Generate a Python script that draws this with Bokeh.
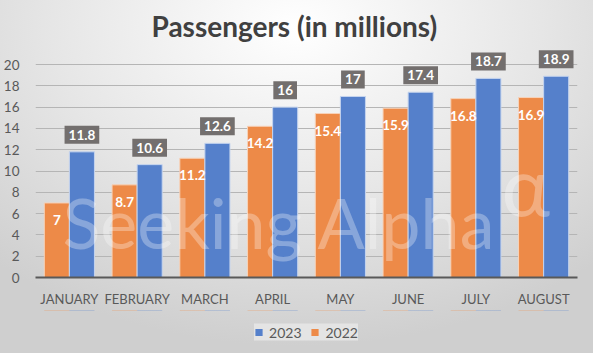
from bokeh.plotting import figure
from bokeh.layouts import column
from bokeh.models import ColumnDataSource, FactorRange, Range1d, Legend, LegendItem, Label, FixedTicker
from bokeh.transform import dodge
from bokeh.core.properties import value
from bokeh.embed import file_html
from bokeh.resources import INLINE

months = ["JANUARY", "FEBRUARY", "MARCH", "APRIL", "MAY", "JUNE", "JULY", "AUGUST"]
y2022 = [7, 8.7, 11.2, 14.2, 15.4, 15.9, 16.8, 16.9]
y2023 = [11.8, 10.6, 12.6, 16, 17, 17.4, 18.7, 18.9]
y_ticks = [0, 2, 4, 6, 8, 10, 12, 14, 16, 18, 20]
series = ["2023", "2022"]
colors = {"2023": "#5580CB", "2022": "#ED8A48"}

src = ColumnDataSource(dict(
    month=months, y22=y2022, y23=y2023,
    l22=[f"{v:g}" for v in y2022], l23=[f"{v:g}" for v in y2023],
))

FONT = "Lato"
TXT = "#595959"

xr = FactorRange(*months, range_padding=0)
p = figure(width=593, height=310, x_range=xr,
           y_range=(0, 21.6), output_backend="svg", toolbar_location=None,
           title="Passengers (in millions)")
p.border_fill_alpha = 0
p.background_fill_alpha = 0
p.outline_line_color = None
p.min_border_left = 33
p.min_border_right = 16
p.min_border_top = 47
p.min_border_bottom = 33

p.title.align = "left"
p.title.offset = 116
p.title.standoff = 10
p.title.text_font = FONT
p.title.text_font_size = "28px"
p.title.text_color = "#404040"
p.title.text_font_style = "bold"

r22 = p.vbar(x=dodge("month", -0.185, range=xr), top="y22", width=0.37, source=src,
             fill_color=colors["2022"], line_color="#f7d2b8", line_width=1)
r23 = p.vbar(x=dodge("month", 0.185, range=xr), top="y23", width=0.37, source=src,
             fill_color=colors["2023"], line_color="#c5d4ee", line_width=1)

p.text(x=dodge("month", 0.185, range=xr), y="y23", text="l23", source=src,
       text_align="center", text_baseline="middle", y_offset=-17,
       text_font=value(FONT), text_font_size="13.5px", text_font_style="bold",
       text_color="white", background_fill_color="#736F6E", padding=4)
p.text(x=dodge("month", -0.185, range=xr), y="y22", text="l22", source=src,
       text_align="center", text_baseline="middle", y_offset=17,
       text_font=value(FONT), text_font_size="13.5px", text_font_style="bold",
       text_color="white")

# watermark
p.add_layout(Label(x=27, y=14, x_units="screen", y_units="screen", text="Seeking Alpha",
                   text_font=FONT, text_font_size="70px",
                   text_color="white", text_alpha=0.3))
p.add_layout(Label(x=466, y=45, x_units="screen", y_units="screen", text="α",
                   text_font=FONT, text_font_size="82px",
                   text_color="white", text_alpha=0.3))

p.yaxis.ticker = FixedTicker(ticks=y_ticks)
p.yaxis.axis_line_color = None
p.yaxis.major_tick_line_color = None
p.yaxis.minor_tick_line_color = None
p.yaxis.major_label_standoff = 10
p.yaxis.major_label_text_font = FONT
p.yaxis.major_label_text_font_size = "13.5px"
p.yaxis.major_label_text_color = TXT

p.xaxis.axis_line_color = "#595959"
p.xaxis.axis_line_width = 2
p.xaxis.major_tick_line_color = None
p.xaxis.major_label_standoff = 7
p.xaxis.major_label_text_font = FONT
p.xaxis.major_label_text_font_size = "13px"
p.xaxis.major_label_text_color = TXT

p.xgrid.grid_line_color = None
p.ygrid.grid_line_color = "#b5b5b5"
p.ygrid.grid_line_width = 1

# legend strip: same series drawn far out of view (y-range well below zero), only their legend shows
p2 = figure(width=593, height=43, x_range=xr, y_range=Range1d(-200, -100),
            x_axis_type=None, y_axis_type=None,
            output_backend="svg", toolbar_location=None)
p2.border_fill_alpha = 0
p2.background_fill_alpha = 0
p2.outline_line_color = None
p2.grid.grid_line_color = None
p2.min_border_left = p2.min_border_right = p2.min_border_top = p2.min_border_bottom = 0
proxy = {
    "2023": p2.vbar(x=dodge("month", 0.185, range=xr), top="y23", width=0.37, source=src,
                    fill_color=colors["2023"], line_color=None),
    "2022": p2.vbar(x=dodge("month", -0.185, range=xr), top="y22", width=0.37, source=src,
                    fill_color=colors["2022"], line_color=None),
}
items = [LegendItem(label=s, renderers=[proxy[s]]) for s in series]

legend = Legend(items=items, orientation="horizontal", location="center")
legend.background_fill_color = "#e4e4e4"
legend.background_fill_alpha = 1
legend.border_line_color = None
legend.label_text_font = FONT
legend.label_text_font_size = "14px"
legend.label_text_color = TXT
legend.glyph_width = 9
legend.glyph_height = 9
legend.spacing = 9
legend.label_standoff = 6
legend.padding = 7
legend.margin = 0
p2.add_layout(legend, "center")

layout = column(p, p2, spacing=0)
layout.styles = {"background": "radial-gradient(ellipse 75% 90% at 50% 8%, #ffffff 0%, #e6e6e6 55%, #cfcfcf 100%)"}

open("out.html", "w").write(file_html(layout, INLINE))
